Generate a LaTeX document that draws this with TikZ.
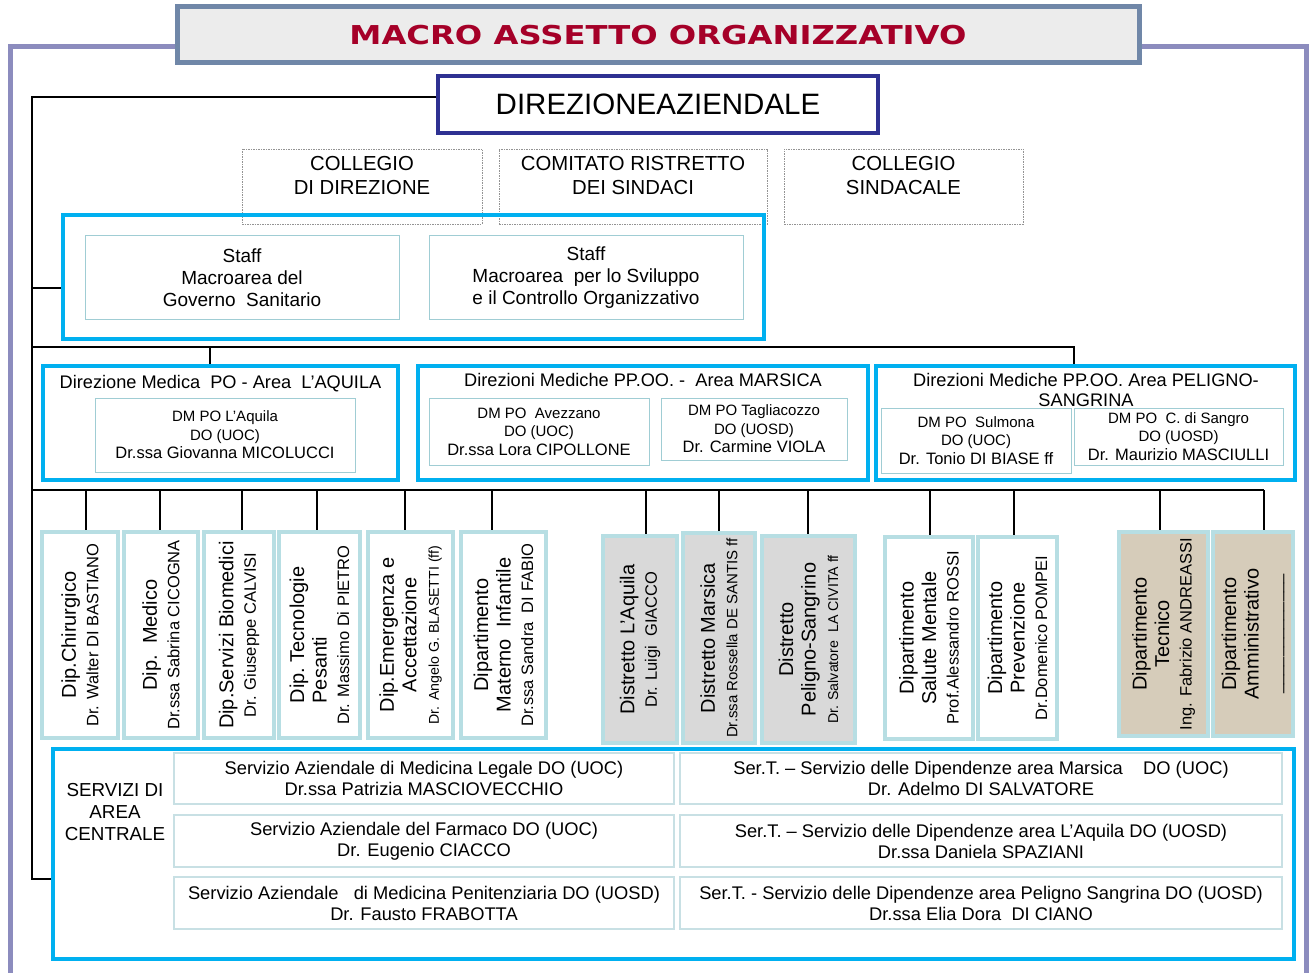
\documentclass[tikz,border=0pt]{standalone}
\usepackage{fontspec}
\setmainfont{Liberation Sans}
\newfontfamily\titlefont{DejaVu Sans}
\definecolor{cyanb}{RGB}{0,176,240}
\definecolor{navyb}{RGB}{46,49,146}
\definecolor{deptb}{RGB}{183,222,227}
\definecolor{thinb}{RGB}{160,205,212}
\definecolor{servb}{RGB}{200,224,228}
\definecolor{frameb}{RGB}{140,140,190}
\definecolor{titleb}{RGB}{112,135,168}
\definecolor{titlefill}{RGB}{236,236,236}
\definecolor{titletext}{RGB}{165,0,40}
\definecolor{distfill}{RGB}{217,217,217}
\definecolor{techfill}{RGB}{214,204,186}
\newcommand\fz[2]{\fontsize{#1}{#2}\selectfont}
\newcommand\fa{\fontsize{20}{22.5}\selectfont}
\newcommand\fb{\fontsize{16.5}{22.5}\selectfont}
\newcommand\fc{\fontsize{14.2}{22.5}\selectfont}
\begin{document}
\begin{tikzpicture}[x=1pt,y=-1pt,
  conn/.style={draw=black,line width=1.8},
  cyanbox/.style={draw=cyanb,line width=4,inner sep=0},
  thinbox/.style={draw=thinb,line width=1,inner sep=0,align=center},
  servbox/.style={draw=servb,line width=1.2,inner sep=0,align=center,font=\fz{18.3}{21}},
  deptbox/.style={draw=deptb,line width=4,fill=white,inner sep=0},
  dotbox/.style={draw=gray!85,line width=0.8,dash pattern=on 1.5pt off 1pt,inner sep=0},
  dottext/.style={align=center,inner sep=0,font=\fz{20.3}{24}},
  rtext/.style={rotate=90,align=center,inner sep=0,font=\fa},
  ititle/.style={align=center,inner sep=0,font=\fz{18.2}{20}},
  dm/.style={thinbox,font=\fz{15}{18.5}},
]
\useasboundingbox (0,0) rectangle (1313,973);
\clip (0,0) rectangle (1313,973);

% outer frame
\draw[frameb,line width=5] (10,47) rectangle (1306,1000);

% title
\node[draw=titleb,line width=5,fill=titlefill,minimum width=962,minimum height=56,inner sep=0] (title) at (658,35)
  {\titlefont\bfseries\color{titletext}\fz{26}{30}\scalebox{1.24}[1]{MACRO ASSETTO ORGANIZZATIVO}};

% direzione aziendale
\node[draw=navyb,line width=3.5,fill=white,minimum width=440,minimum height=57,inner sep=0,font=\fz{29.5}{32}] (dir) at (658,104.5) {DIREZIONEAZIENDALE};

% collegi
\node[dotbox,minimum width=240,minimum height=75] (col1) at (362,186.5) {};
\node[dottext] (col1t) at (362,176) {COLLEGIO\\DI DIREZIONE};
\node[dotbox,minimum width=268,minimum height=75] (col2) at (633,186.5) {};
\node[dottext] (col2t) at (633,176) {COMITATO RISTRETTO\\DEI SINDACI};
\node[dotbox,minimum width=239,minimum height=75] (col3) at (903.5,186.5) {};
\node[dottext] (col3t) at (903.5,176) {COLLEGIO\\SINDACALE};

% staff
\node[cyanbox,minimum width=701,minimum height=124] (staff) at (413.5,277) {};
\node[thinbox,minimum width=314,minimum height=83,font=\fz{19}{22}] (staffL) at (242,277.5) {Staff\\Macroarea del\\Governo\ \ Sanitario};
\node[thinbox,minimum width=314,minimum height=83,font=\fz{19}{22}] (staffR) at (586,277.5) {Staff\\Macroarea\ \ per lo Sviluppo\\e il Controllo Organizzativo};

% direzioni mediche
\node[cyanbox,minimum width=355,minimum height=114] (dm1) at (220.5,423) {};
\node[ititle] (dm1t) at (220.5,384) {Direzione Medica\ \ PO - Area\ \ L’AQUILA};
\node[dm,minimum width=260,minimum height=74] (dm1a) at (225,435) {DM PO L'Aquila\\DO (UOC)\\{\fz{16.5}{19}Dr.ssa Giovanna MICOLUCCI}};

\node[cyanbox,minimum width=450,minimum height=114] (dm2) at (643,423) {};
\node[ititle] (dm2t) at (643,380) {Direzioni Mediche PP.OO. -\ \ Area MARSICA};
\node[dm,minimum width=220,minimum height=67] (dm2a) at (539,431.5) {DM PO\ \ Avezzano\\DO (UOC)\\{\fz{16.5}{19}Dr.ssa Lora CIPOLLONE}};
\node[dm,minimum width=186,minimum height=62] (dm2b) at (754,429) {DM PO Tagliacozzo\\DO (UOSD)\\{\fz{16.5}{19}Dr. Carmine VIOLA}};

\node[cyanbox,minimum width=419,minimum height=114] (dm3) at (1085.5,423) {};
\node[ititle] (dm3t) at (1086,390) {Direzioni Mediche PP.OO. Area PELIGNO-\\SANGRINA};
\node[dm,minimum width=190,minimum height=65] (dm3a) at (976,440.5) {DM PO\ \ Sulmona\\DO (UOC)\\{\fz{16.5}{19}Dr. Tonio DI BIASE ff}};
\node[dm,minimum width=209,minimum height=57] (dm3b) at (1178.5,436.5) {DM PO\ \ C. di Sangro\\DO (UOSD)\\{\fz{16.5}{19}Dr. Maurizio MASCIULLI}};

% departments
\node[deptbox,minimum width=76,minimum height=206] (d1) at (80,635) {};
\node[rtext] (d1t) at (d1.center) {{\fa Dip.Chirurgico}\\{\fb Dr. Walter DI BASTIANO}};
\node[deptbox,minimum width=74,minimum height=206] (d2) at (161,635) {};
\node[rtext] (d2t) at (d2.center) {{\fa Dip.\ \ Medico}\\{\fb Dr.ssa Sabrina CICOGNA}};
\node[deptbox,minimum width=70,minimum height=206] (d3) at (239,635) {};
\node[rtext] (d3t) at (d3.center) {{\fa Dip.Servizi Biomedici}\\{\fb Dr. Giuseppe CALVISI}};
\node[deptbox,minimum width=81,minimum height=206] (d4) at (319.5,635) {};
\node[rtext] (d4t) at (d4.center) {{\fa Dip.\ Tecnologie}\\{\fa Pesanti\rule{70pt}{0pt}}\\{\fb Dr. Massimo Di PIETRO}};
\node[deptbox,minimum width=85,minimum height=206] (d5) at (410.5,635) {};
\node[rtext] (d5t) at (d5.center) {{\fa Dip.Emergenza e}\\{\fa Accettazione}\\{\fc Dr. Angelo G. BLASETTI (ff)}};
\node[deptbox,minimum width=85,minimum height=206] (d6) at (503.5,635) {};
\node[rtext] (d6t) at (d6.center) {{\fa Dipartimento}\\{\fa Materno\ \ Infantile}\\{\fb Dr.ssa Sandra\ \ DI FABIO}};
\node[deptbox,fill=distfill,minimum width=74,minimum height=207] (d7) at (640,639.5) {};
\node[rtext] (d7t) at (d7.center) {{\fa Distretto L’Aquila}\\{\fb Dr. Luigi\ \ GIACCO}};
\node[deptbox,fill=distfill,minimum width=72,minimum height=210] (d8) at (719,638) {};
\node[rtext] (d8t) at (d8.center) {{\fa Distretto Marsica}\\{\fz{15}{22.5}Dr.ssa Rossella DE SANTIS ff}};
\node[deptbox,fill=distfill,minimum width=93,minimum height=207] (d9) at (808.5,639.5) {};
\node[rtext] (d9t) at (d9.center) {{\fa Distretto}\\{\fa Peligno-Sangrino}\\{\fc Dr. Salvatore\ \ LA CIVITA ff}};
\node[deptbox,minimum width=88,minimum height=202] (d10) at (929,638) {};
\node[rtext] (d10t) at (d10.center) {{\fa Dipartimento}\\{\fa Salute Mentale}\\{\fb Prof.Alessandro ROSSI}};
\node[deptbox,minimum width=79,minimum height=202] (d11) at (1017.5,638) {};
\node[rtext] (d11t) at (d11.center) {{\fa Dipartimento}\\{\fa Prevenzione}\\{\fb Dr.Domenico POMPEI}};
\node[deptbox,fill=techfill,minimum width=89,minimum height=204] (d12) at (1163.5,634) {};
\node[rtext] (d12t) at (d12.center) {{\fa Dipartimento}\\{\fa Tecnico}\\{\fb Ing. Fabrizio ANDREASSI}};
\node[deptbox,fill=techfill,minimum width=80,minimum height=204] (d13) at (1253,634) {};
\node[rtext] (d13t) at (d13.center) {{\fa Dipartimento}\\{\fa Amministrativo}\\{\fb \_\_\_\_\_\_\_\_\_\_\_\_\_}};

% servizi
\node[cyanbox,minimum width=1241,minimum height=210] (serv) at (673.5,854) {};
\node[align=center,inner sep=0,font=\fz{18.8}{22}] (servt) at (115,812) {SERVIZI DI\\AREA\\CENTRALE};
\node[servbox,minimum width=500,minimum height=51] (s1) at (424,778.5) {Servizio Aziendale di Medicina Legale DO (UOC)\\Dr.ssa Patrizia MASCIOVECCHIO};
\node[servbox,minimum width=500,minimum height=52] (s2) at (424,841) {Servizio Aziendale del Farmaco DO (UOC)\\Dr. Eugenio CIACCO};
\node[servbox,minimum width=500,minimum height=52] (s3) at (424,903) {Servizio Aziendale\ \ \ di Medicina Penitenziaria DO (UOSD)\\Dr. Fausto FRABOTTA};
\node[servbox,minimum width=602,minimum height=51] (s4) at (981,778.5) {Ser.T. – Servizio delle Dipendenze area Marsica\ \ \ \ DO (UOC)\\Dr. Adelmo DI SALVATORE};
\node[servbox,minimum width=602,minimum height=52] (s5) at (981,841) {Ser.T. – Servizio delle Dipendenze area L’Aquila DO (UOSD)\\Dr.ssa Daniela SPAZIANI};
\node[servbox,minimum width=602,minimum height=52] (s6) at (981,903) {Ser.T. - Servizio delle Dipendenze area Peligno Sangrina DO (UOSD)\\Dr.ssa Elia Dora\ \ DI CIANO};

% connectors
\coordinate (ktop) at (32,97);
\coordinate (kstaff) at (32,288);
\coordinate (kbus1) at (32,347);
\coordinate (kbus2) at (32,490);
\coordinate (kserv) at (32,879);
\draw[conn] (ktop -| dir.west) -- (ktop) -- (kserv) -- (kserv -| serv.west);
\draw[conn] (kstaff) -- (kstaff -| staff.west);
\coordinate (b1a) at (210,347);
\coordinate (b1b) at (1074,347);
\draw[conn] (kbus1) -- (b1b) -- (b1b |- dm3.north);
\draw[conn] (b1a) -- (b1a |- dm1.north);
\coordinate (bend) at (1264,490);
\draw[conn] (kbus2) -- (bend);
\foreach \x/\n in {86/d1,160/d2,242/d3,317/d4,405/d5,492/d6,646/d7,719/d8,808/d9,930/d10,1014/d11,1160/d12,1264/d13}{
  \coordinate (c\n) at (\x,490);
  \draw[conn] (c\n) -- (c\n |- \n.north);
}
\end{tikzpicture}
\end{document}
